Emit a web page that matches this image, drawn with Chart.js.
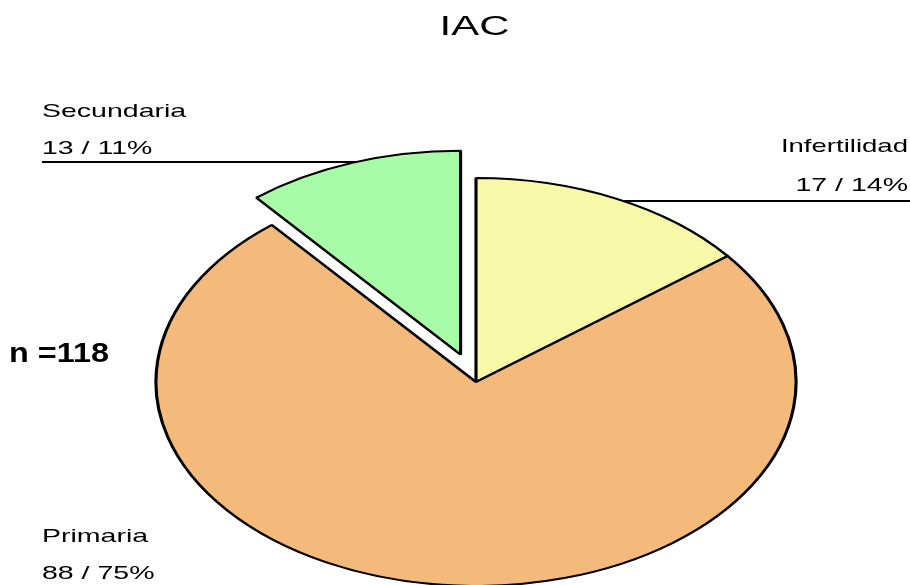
<!DOCTYPE html>
<html>
<head>
<meta charset="utf-8">
<script src="https://cdn.jsdelivr.net/npm/chart.js@4/dist/chart.umd.min.js"></script>
<style>
  html, body { margin: 0; padding: 0; background: #ffffff; }
  #wrap { width: 910px; height: 585px; position: relative; }
</style>
</head>
<body>
<div id="wrap"><canvas id="c" width="910" height="585"></canvas></div>
<script>
// IAC distribution by type
const categories = ['Infertilidad', 'Primaria', 'Secundaria'];
const counts = [17, 88, 13];
const sliceColors = ['#F8F8A9', '#F4BA7C', '#A8FCA8'];
const explodeDist = [0, 0, 29]; // how far each slice is pulled out, px
const chartTitle = 'IAC';

const total = counts.reduce((a, b) => a + b, 0);
const percents = counts.map(v => Math.round(v / total * 100));

const FONT = '"Liberation Sans", Arial, Helvetica, sans-serif';
const STRETCH = 1.569; // horizontal stretch of the pie (ellipse)

function stretchedText(ctx, str, x, y, font, sx, align) {
  ctx.save();
  ctx.translate(x, y);
  ctx.scale(sx, 1);
  ctx.font = font;
  ctx.fillStyle = '#000000';
  ctx.textAlign = align;
  ctx.textBaseline = 'alphabetic';
  ctx.fillText(str, 0, 0);
  ctx.restore();
}

// x where a horizontal line at height y meets the outer edge of an arc (ellipse)
function edgeX(arc, dist, y, side) {
  const half = (arc.startAngle + arc.endAngle) / 2;
  const cx = arc.x + STRETCH * Math.cos(half) * dist;
  const cy = arc.y + Math.sin(half) * dist;
  const R = arc.outerRadius;
  const r = Math.max(0, 1 - Math.pow((y - cy) / R, 2));
  return cx + side * STRETCH * R * Math.sqrt(r);
}

// draws the pie arcs stretched into an ellipse, with exploded slices moved outwards
const ellipsePlugin = {
  id: 'ellipse',
  beforeDatasetsDraw(chart) {
    const ctx = chart.ctx;
    const arcs = chart.getDatasetMeta(0).data;
    const cx = arcs[0].x, cy = arcs[0].y;
    ctx.save();
    ctx.translate(cx, cy);
    ctx.scale(STRETCH, 1);
    ctx.translate(-cx, -cy);
    arcs.forEach((arc, i) => {
      const d = explodeDist[i] || 0;
      const half = (arc.startAngle + arc.endAngle) / 2;
      ctx.save();
      ctx.translate(Math.cos(half) * d, Math.sin(half) * d);
      arc.draw(ctx);
      ctx.restore();
    });
    ctx.restore();
    return false;
  }
};

const labelPlugin = {
  id: 'labels',
  afterDraw(chart) {
    const ctx = chart.ctx;
    const arcs = chart.getDatasetMeta(0).data;
    const f19 = '19px ' + FONT;

    // title
    stretchedText(ctx, chartTitle, 474.5, 35, '27px ' + FONT, 1.55, 'center');

    // leader lines
    ctx.save();
    ctx.strokeStyle = '#000000';
    ctx.lineWidth = 2;
    ctx.beginPath();
    const ySec = 162;
    ctx.moveTo(42, ySec);
    ctx.lineTo(edgeX(arcs[2], explodeDist[2], ySec, -1), ySec);
    const yInf = 201;
    ctx.moveTo(edgeX(arcs[0], explodeDist[0], yInf, 1), yInf);
    ctx.lineTo(910, yInf);
    ctx.stroke();
    ctx.restore();

    // slice labels
    stretchedText(ctx, categories[2], 42, 117, f19, 1.5, 'left');
    stretchedText(ctx, counts[2] + ' / ' + percents[2] + '%', 42, 154, f19, 1.5, 'left');

    stretchedText(ctx, categories[0], 908, 152, f19, 1.45, 'right');
    stretchedText(ctx, counts[0] + ' / ' + percents[0] + '%', 908, 191, f19, 1.5, 'right');

    stretchedText(ctx, categories[1], 42, 542, f19, 1.5, 'left');
    stretchedText(ctx, counts[1] + ' / ' + percents[1] + '%', 42, 579, f19, 1.5, 'left');

    // sample size
    stretchedText(ctx, 'n =' + total, 9, 362, 'bold 27px ' + FONT, 1.2, 'left');
  }
};

new Chart(document.getElementById('c'), {
  type: 'pie',
  data: {
    labels: categories,
    datasets: [{
      data: counts,
      backgroundColor: sliceColors,
      borderColor: '#000000',
      borderWidth: 2,
      clip: false
    }]
  },
  options: {
    responsive: false,
    animation: false,
    events: [],
    radius: 204,
    layout: { padding: { left: 42, top: 179, right: 0, bottom: 0 } },
    plugins: {
      legend: { display: false },
      title: { display: false },
      tooltip: { enabled: false }
    }
  },
  plugins: [ellipsePlugin, labelPlugin]
});
</script>
</body>
</html>
